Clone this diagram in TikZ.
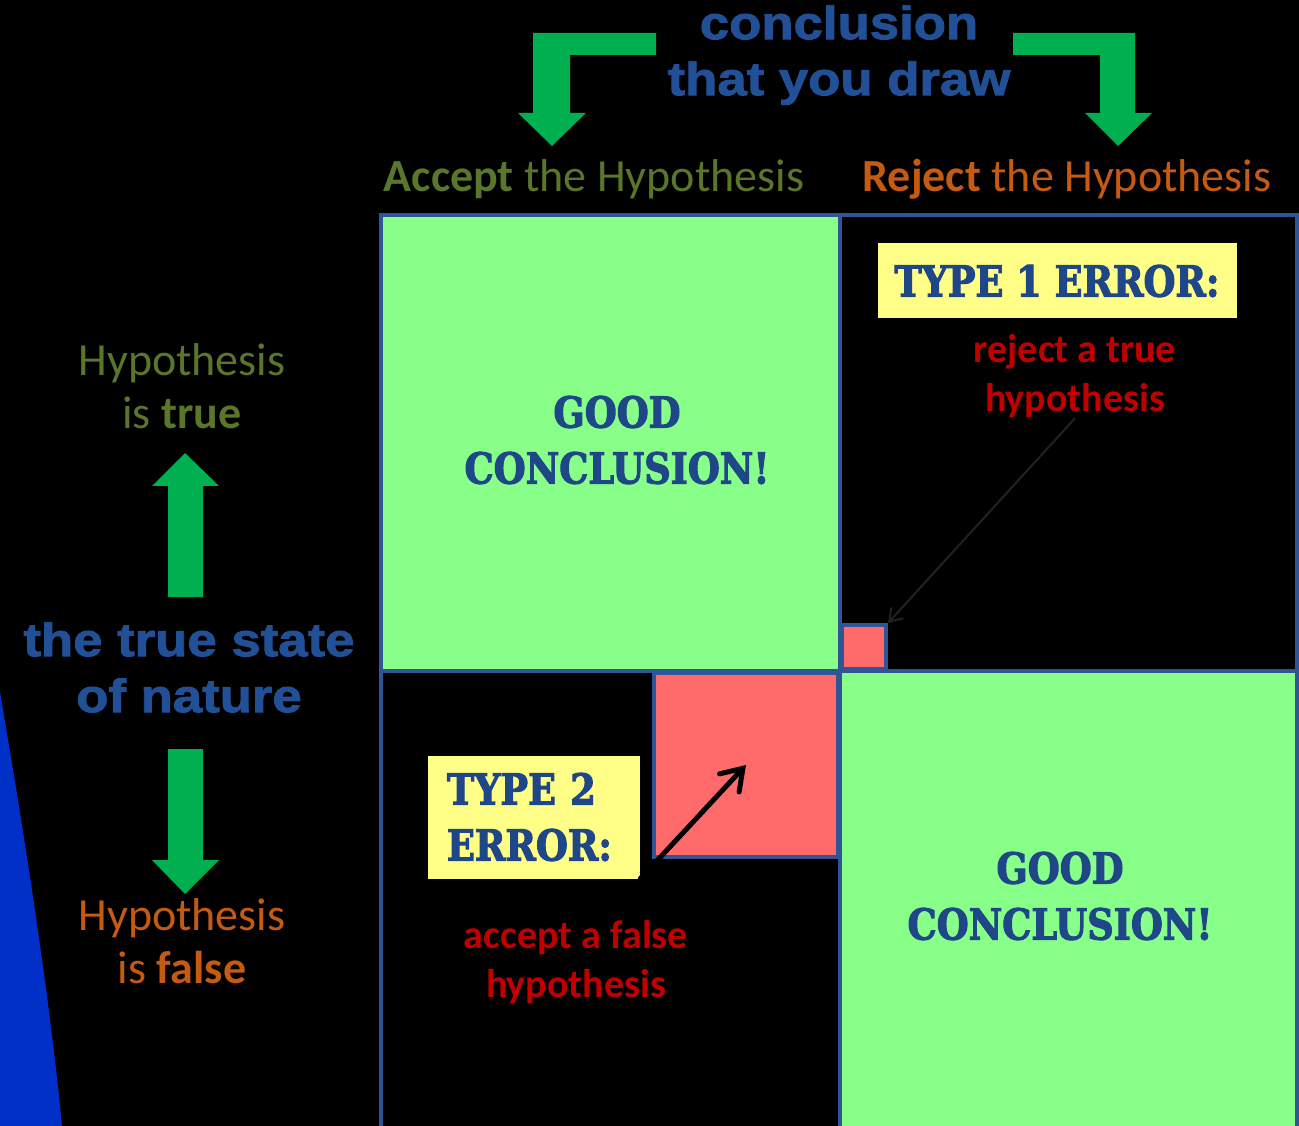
\documentclass[tikz,border=0pt]{standalone}
\usepackage{fontspec}
\setmainfont{Carlito}
\newfontfamily\headfont[FakeStretch=1.13,FakeBold=2]{Liberation Sans Bold}
\newfontfamily\stencilfont[FakeStretch=0.86,FakeBold=2.5]{DejaVu Serif Bold}
\usetikzlibrary{arrows.meta}

\definecolor{edgeblue}{RGB}{47,85,151}
\definecolor{goodgreen}{RGB}{136,255,136}
\definecolor{errred}{RGB}{255,107,107}
\definecolor{tagyellow}{RGB}{255,255,136}
\definecolor{stencilblue}{RGB}{31,71,136}
\definecolor{headblue}{RGB}{33,80,150}
\definecolor{arrowgreen}{RGB}{0,176,80}
\definecolor{olive}{RGB}{90,118,42}
\definecolor{burnt}{RGB}{197,90,17}
\definecolor{errtextred}{RGB}{192,0,0}
\definecolor{crescent}{RGB}{0,48,200}
\definecolor{faint}{RGB}{34,34,34}

\def\px{0.75pt}

\tikzset{
   cell/.style={draw=edgeblue, line width=4*\px},
   errbox/.style={fill=errred, draw=edgeblue, line width=4*\px, inner sep=0pt},
   tagbox/.style={fill=tagyellow, inner sep=0pt, text=stencilblue,
      font=\stencilfont\fontsize{32}{42}\selectfont},
   verdict/.style={text=stencilblue, align=center, inner sep=0pt,
      font=\stencilfont\fontsize{32}{42}\selectfont},
   headtext/.style={text=headblue, align=center, inner sep=0pt,
      font=\headfont\fontsize{35}{42}\selectfont},
   sidetext/.style={align=center, inner sep=0pt, font=\fontsize{34.5}{40}\selectfont},
   errtext/.style={text=errtextred, align=center, inner sep=0pt,
      font=\bfseries\fontsize{30}{37}\selectfont},
   blockarrow/.style={fill=arrowgreen},
   thinarrow/.style={draw=faint, line width=2*\px, -{Straight Barb[length=9pt, width=12pt]}},
   fatarrow/.style={draw=black, line width=5*\px, line cap=round,
      -{Straight Barb[length=15pt, width=20pt, line cap=round]}}
}

\begin{document}
\begin{tikzpicture}[x=\px, y=-\px]

      \useasboundingbox (0,0) rectangle (1299,1126);
      \clip (0,0) rectangle (1299,1126);
      \fill[black] (0,0) rectangle (1299,1126);

      \fill[crescent] (0,692) .. controls (20,810) and (48,980) .. (62,1126) -- (0,1126) -- cycle;

      % the four outcomes
      \filldraw[cell, fill=goodgreen] (381,215) rectangle (840,671);
      \draw[cell] (840,215) rectangle (1297,671);
      \draw[cell] (381,671) rectangle (840,1140);
      \filldraw[cell, fill=goodgreen] (840,671) rectangle (1297,1140);

      \node[errbox, minimum width=44*\px, minimum height=44*\px, anchor=south west] (err1) at (840,671) {};
      \node[errbox, minimum width=184*\px, minimum height=184*\px, anchor=north east] (err2) at (840,671) {};

      \node[verdict] (good1) at (617,440) {GOOD\\CONCLUSION!};
      \node[verdict] (good2) at (1060,896) {GOOD\\CONCLUSION!};

      \node[tagbox, minimum width=359*\px, minimum height=75*\px] (type1) at (1057,281) {TYPE 1 ERROR:};
      \node[tagbox, text width=174*\px, inner xsep=19*\px, minimum height=123*\px, align=left] (type2) at (534,817) {TYPE 2\\ERROR:};

      \node[errtext, anchor=north] (rejtrue) at (1075,334) {reject a true\\hypothesis};
      \node[errtext, anchor=north] (accfalse) at (576,920) {accept a false\\hypothesis};

      \draw[thinarrow] (rejtrue.south) -- (err1.north east);
      \draw[fatarrow] (type2.south east) -- (err2.center);

      % headings
      \node[headtext, anchor=north] (concl) at (839,5) {conclusion\\that you draw};
      \node[sidetext, text=olive, anchor=base] (accept) at (594,192) {\textbf{Accept} the Hypothesis};
      \node[sidetext, text=burnt, anchor=base] (reject) at (1067,192) {\textbf{Reject} the Hypothesis};

      \node[sidetext, text=olive, anchor=north] (hyptrue) at (182,343) {Hypothesis\\is \textbf{true}};
      \node[headtext, anchor=north] (state) at (189,622) {the true state\\of nature};
      \node[sidetext, text=burnt, anchor=north] (hypfalse) at (182,898) {Hypothesis\\is \textbf{false}};

      % green block arrows
      \fill[blockarrow] (656,33) -- (533,33) -- (533,113) -- (518,113) -- (552,146) -- (586,113)
         -- (570,113) -- (570,55) -- (656,55) -- cycle;
      \fill[blockarrow] (1013,33) -- (1135,33) -- (1135,113) -- (1152,113) -- (1118,146) -- (1085,113)
         -- (1100,113) -- (1100,55) -- (1013,55) -- cycle;
      \fill[blockarrow] (168,597) -- (168,486) -- (152,486) -- (185,453) -- (219,486) -- (203,486)
         -- (203,597) -- cycle;
      \fill[blockarrow] (168,749) -- (203,749) -- (203,860) -- (219,860) -- (185,894) -- (152,860)
         -- (168,860) -- cycle;

\end{tikzpicture}
\end{document}
